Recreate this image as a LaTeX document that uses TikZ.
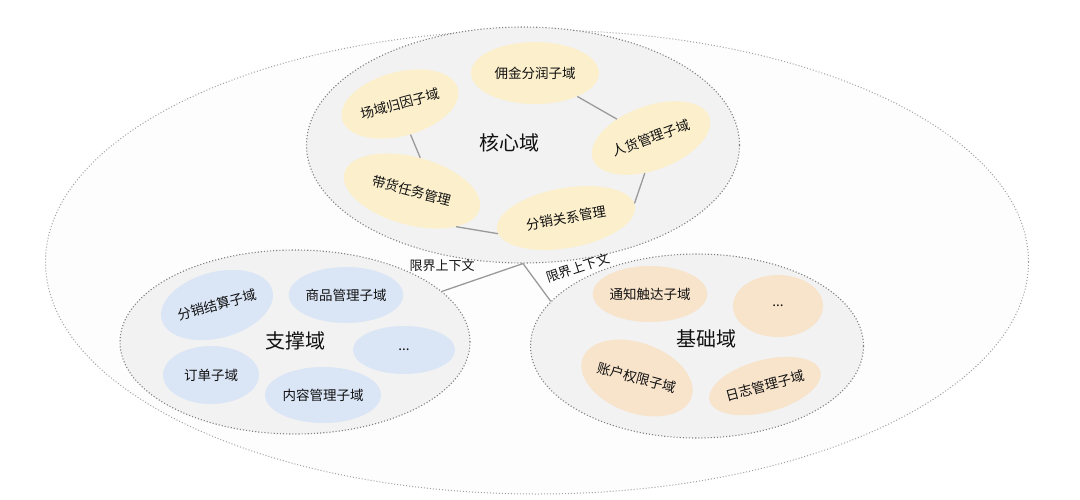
\documentclass[tikz,border=0pt]{standalone}
\usepackage{fontspec}
\setmainfont{Noto Sans CJK SC}
\usetikzlibrary{shapes.geometric}
\definecolor{coregray}{HTML}{F2F2F2}
\definecolor{outerfill}{HTML}{FDFDFD}
\definecolor{yel}{HTML}{FBEFCC}
\definecolor{blu}{HTML}{DAE5F6}
\definecolor{ora}{HTML}{F8E3CB}
\definecolor{bord}{HTML}{808080}
\definecolor{lbord}{HTML}{A0A0A0}
\definecolor{linkc}{HTML}{9A9A9A}
\definecolor{txt}{HTML}{111111}
\tikzset{
  dombox/.style={ellipse, draw=bord, fill=coregray, dotted, line width=1.1pt, inner sep=0pt, text=txt, font=\fontsize{20}{24}\selectfont},
  subbox/.style={ellipse, draw=none, inner sep=0pt, text=txt, font=\fontsize{13.5}{16}\selectfont},
  ysub/.style={subbox, fill=yel},
  bsub/.style={subbox, fill=blu},
  osub/.style={subbox, fill=ora},
  linkline/.style={draw=linkc, line width=1.3pt},
  labtext/.style={text=txt, font=\fontsize{13}{15}\selectfont, inner sep=1pt},
  domtitle/.style={text=txt, font=\fontsize{20}{24}\selectfont}
}
\begin{document}
\begin{tikzpicture}[x=1pt,y=-1pt]
\useasboundingbox (0,0) rectangle (1080,499);
% outer
\node[ellipse, draw=lbord, fill=outerfill, dotted, line width=1pt, minimum width=983pt, minimum height=464pt, inner sep=0pt] (outer) at (537,262) {};
% core
\node[dombox, minimum width=433pt, minimum height=236pt] (core) at (523,145) {};
\node[domtitle] (coret) at (509,143) {核心域};
\node[ysub, minimum width=128pt, minimum height=62pt] (yj) at (535,73) {佣金分润子域};
\node[ysub, minimum width=120pt, minimum height=64pt, rotate=15] (cy) at (400,104) {场域归因子域};
\node[ysub, minimum width=124pt, minimum height=64pt, rotate=20] (rh) at (651,138) {人货管理子域};
\node[ysub, minimum width=140pt, minimum height=68pt, rotate=-15] (dh) at (412,191) {带货任务管理};
\node[ysub, minimum width=140pt, minimum height=60pt, rotate=10] (fx) at (566,218) {分销关系管理};
\draw[linkline] (yj.331) -- (rh.131);
\draw[linkline] (cy.274) -- (dh.91);
\draw[linkline] (rh.240) -- (fx.2);
\draw[linkline] (dh.336) -- (fx.183);
% support
\node[dombox, minimum width=350pt, minimum height=184pt] (supp) at (295,342) {};
\node[domtitle] (suppt) at (295,341) {支撑域};
\node[bsub, minimum width=110pt, minimum height=66pt, rotate=15] (fj) at (217,305) {分销结算子域};
\node[bsub, minimum width=114pt, minimum height=56pt] (sp) at (346,295) {商品管理子域};
\node[bsub, minimum width=102pt, minimum height=48pt] (sdots) at (404,350) {...};
\node[bsub, minimum width=96pt, minimum height=58pt] (dd) at (211,375) {订单子域};
\node[bsub, minimum width=116pt, minimum height=56pt] (nr) at (323,395) {内容管理子域};
% base
\node[dombox, minimum width=333pt, minimum height=184pt] (base) at (697,346) {};
\node[domtitle] (baset) at (706,339) {基础域};
\node[osub, minimum width=106pt, minimum height=56pt] (tz) at (650,294) {通知触达子域};
\node[osub, minimum width=90pt, minimum height=62pt] (bdots) at (778,306) {...};
\node[osub, minimum width=100pt, minimum height=70pt, rotate=-20] (zh) at (637,378) {\rotatebox{5}{账户权限子域}};
\node[osub, minimum width=90pt, minimum height=52pt, rotate=15] (rz) at (765,386) {日志管理子域};
% context links
\draw[linkline] (core.south) -- (supp.19);
\draw[linkline] (core.south) -- (base.163);
\node[labtext] (l1) at (442,266) {限界上下文};
\node[labtext, rotate=18] (l2) at (578,268) {限界上下文};
\end{tikzpicture}
\end{document}
